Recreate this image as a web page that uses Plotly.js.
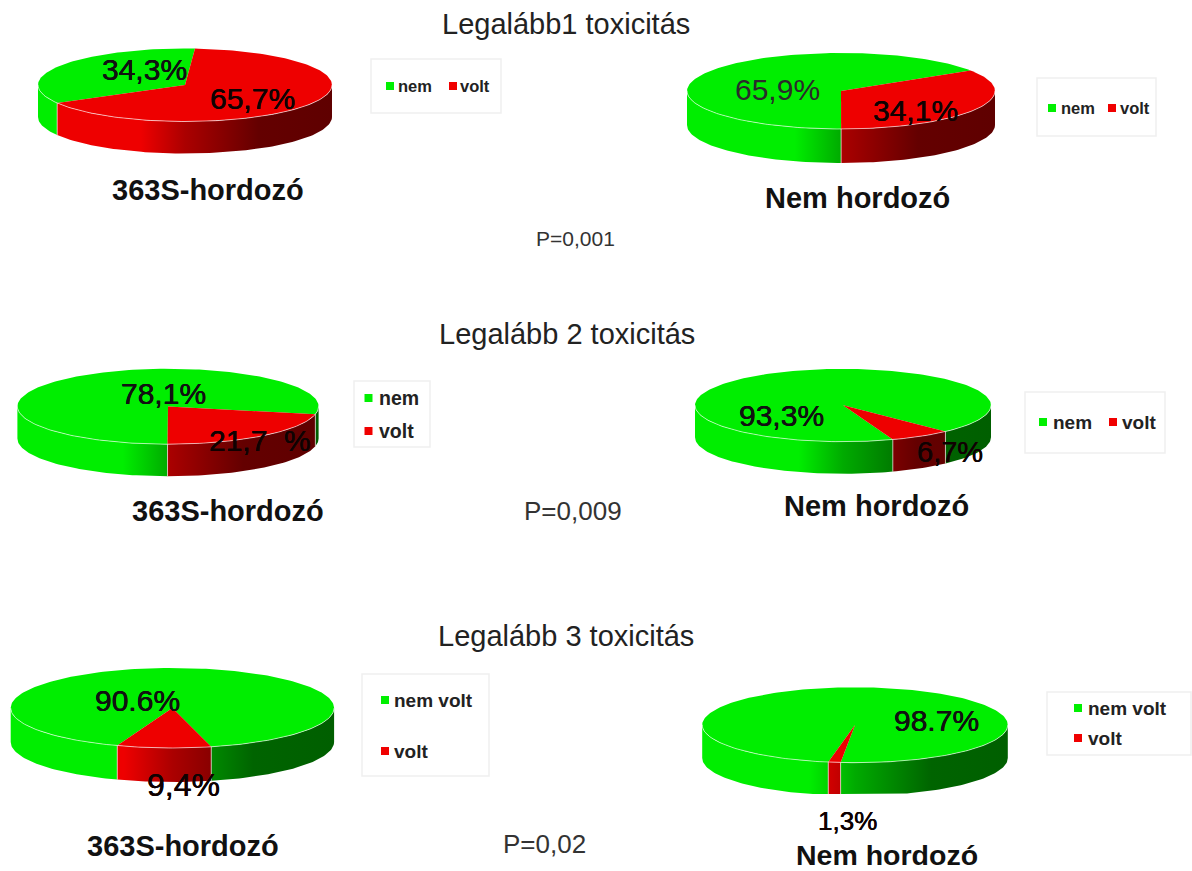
<!DOCTYPE html>
<html>
<head>
<meta charset="utf-8">
<script src="https://cdn.plot.ly/plotly-3.0.1.min.js"></script>
<style>html,body{margin:0;padding:0;background:#fff}#chart{width:1192px;height:871px}</style>
</head>
<body>
<div id="chart"></div>
<script>
// Toxicity shares per carrier group, one entry per pie
const groups = ['363S-hordozó', 'Nem hordozó', '363S-hordozó', 'Nem hordozó', '363S-hordozó', 'Nem hordozó'];
const nemValues = [34.3, 65.9, 78.1, 93.3, 90.6, 98.7];
const voltValues = [65.7, 34.1, 21.7, 6.7, 9.4, 1.3];
const nemLabels = ['34,3%', '65,9%', '78,1%', '93,3%', '90.6%', '98.7%'];
const voltLabels = ['65,7%', '34,1%', '21,7\u00a0\u00a0%', '6,7%', '9,4%', '1,3%'];
const legendNames = [['nem', 'volt'], ['nem', 'volt'], ['nem', 'volt'], ['nem', 'volt'], ['nem volt', 'volt'], ['nem volt', 'volt']];
const sectionTitles = ['Legalább1 toxicitás', 'Legalább 2 toxicitás', 'Legalább 3 toxicitás'];
const pValues = ['P=0,001', 'P=0,009', 'P=0,02'];

// Placement on a 1192 x 871 plotting plane. Angles run clockwise from 12 o'clock.
const pieGeometry = [
  {cx: 185, cy: 85,  rx: 147,   ry: 36.5, depth: 32, voltStart: 3.9},
  {cx: 841, cy: 91,  rx: 154,   ry: 38,   depth: 34, voltStart: 57.2},
  {cx: 168, cy: 406.5, rx: 150.6, ry: 37.7, depth: 32, voltStart: 101.9},
  {cx: 843, cy: 405.3, rx: 148, ry: 36.4, depth: 32, voltStart: 136.2},
  {cx: 172.4, cy: 708, rx: 161.7, ry: 40, depth: 34, voltStart: 166.1},
  {cx: 855, cy: 725, rx: 152.8, ry: 37.7, depth: 33, voltStart: 185.4, floor: 794}
];
const labelPlacement = [
  {nem: [144, 69, 30], volt: [252, 98, 30]},
  {nem: [777, 89, 30], volt: [915, 110, 30]},
  {nem: [163, 393, 30], volt: [260, 440.5, 30]},
  {nem: [781, 415, 30], volt: [950, 451.5, 29]},
  {nem: [137, 700, 30], volt: [183, 785, 32]},
  {nem: [936, 720.5, 30], volt: [847, 821, 26]}
];
const captionPlacement = [[208, 190], [857, 198], [228, 511], [876, 506], [183, 846], [887, 855]];
const titlePlacement = [[566, 24], [567, 334], [566, 636]];
const pPlacement = [[575, 238, 21], [573, 511, 26], [544, 844, 26]];
const legendBoxes = [
  {x0: 371, x1: 501, y0: 59, y1: 113, size: 16.5, keys: [[390, 86], [453, 86]], text: [396, 458]},
  {x0: 1037, x1: 1156, y0: 78, y1: 136, size: 16.5, keys: [[1052, 108], [1112, 108]], text: [1059, 1118]},
  {x0: 354, x1: 430, y0: 381, y1: 447, size: 19.5, keys: [[368.5, 398], [368.5, 431]], text: [377, 377]},
  {x0: 1025, x1: 1165, y0: 392, y1: 453, size: 19, keys: [[1043, 422], [1113, 422]], text: [1051, 1120]},
  {x0: 362, x1: 489, y0: 674, y1: 776, size: 19, keys: [[385, 700], [385, 751]], text: [392, 392]},
  {x0: 1047, x1: 1191, y0: 692, y1: 755, size: 19, keys: [[1078, 708], [1078, 738]], text: [1086, 1086]}
];

const GREEN = [0, 238, 0];
const RED = [238, 0, 0];
const KEY_GREEN = '#00f000';
const KEY_RED = '#f00000';
const SHADE_STOPS = [[0, 1], [0.35, 1], [0.5, 0.72], [0.75, 0.42], [1, 0.4]];
const FONT = '"Liberation Sans", Arial, sans-serif';
// Slightly heavier strokes for the percentage labels
const HEAVY = '0.25px 0 0 #111, -0.25px 0 0 #111';

const rgb = c => 'rgb(' + c.join(',') + ')';
const sideScale = c => SHADE_STOPS.map(([u, f]) => [u, rgb(c.map(v => Math.round(v * f)))]);

// Evenly stepped clockwise angles from a to b
function sweep(a, b) {
  const n = Math.max(2, Math.ceil(Math.abs(b - a) / 1.5));
  const out = [];
  for (let i = 0; i <= n; i++) out.push(a + (b - a) * i / n);
  return out;
}
const px = (g, t) => g.cx + g.rx * Math.sin(t * Math.PI / 180);
const py = (g, t) => g.cy - g.ry * Math.cos(t * Math.PI / 180);
const bottomY = (g, y) => g.floor ? Math.min(y + g.depth, g.floor) : y + g.depth;

function sliceTraces(g, start, share, colour) {
  const end = start + share * 3.6;
  const top = [], sides = [];
  // Top face: apex plus outer arc
  const arc = sweep(start, end);
  top.push({
    x: [g.cx].concat(arc.map(t => px(g, t))).concat([g.cx]),
    y: [g.cy].concat(arc.map(t => py(g, t))).concat([g.cy]),
    mode: 'lines', fill: 'toself', fillcolor: rgb(colour), line: {width: 0}, hoverinfo: 'skip'
  });
  // Side wall: only the front half of the rim (90..270 degrees) faces the viewer
  [0, 360, -360].forEach(shift => {
    const a = Math.max(start + shift, 90), b = Math.min(end + shift, 270);
    if (b <= a) return;
    const wall = sweep(a, b);
    const back = wall.slice().reverse();
    sides.push({
      x: wall.map(t => px(g, t)).concat(back.map(t => px(g, t))).concat([px(g, a)]),
      y: wall.map(t => py(g, t)).concat(back.map(t => bottomY(g, py(g, t)))).concat([py(g, a)]),
      mode: 'lines', fill: 'toself', line: {width: 0}, hoverinfo: 'skip',
      fillcolor: rgb(colour),
      fillgradient: {type: 'horizontal', start: g.cx - g.rx, stop: g.cx + g.rx, colorscale: sideScale(colour)}
    });
  });
  return {top, sides};
}

// Pale highlight along the front rim and down the slice seams
function rimTraces(g, seams) {
  const front = sweep(90, 270);
  const line = {color: 'rgba(255,255,255,0.6)', width: 1};
  const out = [{x: front.map(t => px(g, t)), y: front.map(t => py(g, t)), mode: 'lines', line, hoverinfo: 'skip'}];
  seams.forEach(s => {
    const t = ((s % 360) + 360) % 360;
    if (t > 90 && t < 270) {
      out.push({x: [px(g, t), px(g, t)], y: [py(g, t), bottomY(g, py(g, t))], mode: 'lines', line, hoverinfo: 'skip'});
    }
  });
  return out;
}

const traces = [], annotations = [], shapes = [];
const note = (text, x, y, size, colour, bold, xanchor, shadow) => annotations.push({
  text: bold ? '<b>' + text + '</b>' : text,
  x, y, xref: 'x', yref: 'y', showarrow: false, xanchor: xanchor || 'center', yanchor: 'middle',
  font: Object.assign({family: FONT, size, color: colour}, shadow ? {shadow} : {})
});

pieGeometry.forEach((g, i) => {
  const total = nemValues[i] + voltValues[i];
  const voltShare = voltValues[i] / total * 100;
  const nemShare = nemValues[i] / total * 100;
  const volt = sliceTraces(g, g.voltStart, voltShare, RED);
  const nem = sliceTraces(g, g.voltStart + voltShare * 3.6, nemShare, GREEN);
  traces.push(...nem.sides, ...volt.sides, ...nem.top, ...volt.top);
  traces.push(...rimTraces(g, [g.voltStart, g.voltStart + voltShare * 3.6]));

  const place = labelPlacement[i];
  const softer = nemLabels[i] === '65,9%';
  note(nemLabels[i], place.nem[0], place.nem[1], place.nem[2], softer ? '#2b2b2b' : '#111111', false, 'center', softer ? '' : HEAVY);
  note(voltLabels[i], place.volt[0], place.volt[1], place.volt[2], '#100000', false, 'center', HEAVY);
  note(groups[i], captionPlacement[i][0], captionPlacement[i][1], i === 5 ? 28.5 : 29, '#111111', true);

  const box = legendBoxes[i];
  shapes.push({type: 'rect', xref: 'x', yref: 'y', x0: box.x0, x1: box.x1, y0: box.y0, y1: box.y1,
    line: {color: '#f0f0f0', width: 1.5}, fillcolor: '#ffffff', layer: 'below'});
  traces.push({
    x: box.keys.map(k => k[0]), y: box.keys.map(k => k[1]), mode: 'markers', hoverinfo: 'skip',
    marker: {symbol: 'square', size: 8, color: [KEY_GREEN, KEY_RED]}
  });
  legendNames[i].forEach((name, k) => {
    note(name, box.text[k], box.keys[k][1], box.size, '#222222', true, 'left');
  });
});

sectionTitles.forEach((t, i) => note(t, titlePlacement[i][0], titlePlacement[i][1], 29, '#222222', false));
pValues.forEach((t, i) => note(t, pPlacement[i][0], pPlacement[i][1], pPlacement[i][2], '#333333', false));

Plotly.newPlot('chart', traces, {
  width: 1192, height: 871,
  margin: {l: 0, r: 0, t: 0, b: 0},
  paper_bgcolor: '#ffffff', plot_bgcolor: '#ffffff',
  showlegend: false,
  xaxis: {range: [0, 1192], visible: false, fixedrange: true},
  yaxis: {range: [871, 0], visible: false, fixedrange: true},
  annotations, shapes
}, {staticPlot: true, displayModeBar: false});
</script>
</body>
</html>
